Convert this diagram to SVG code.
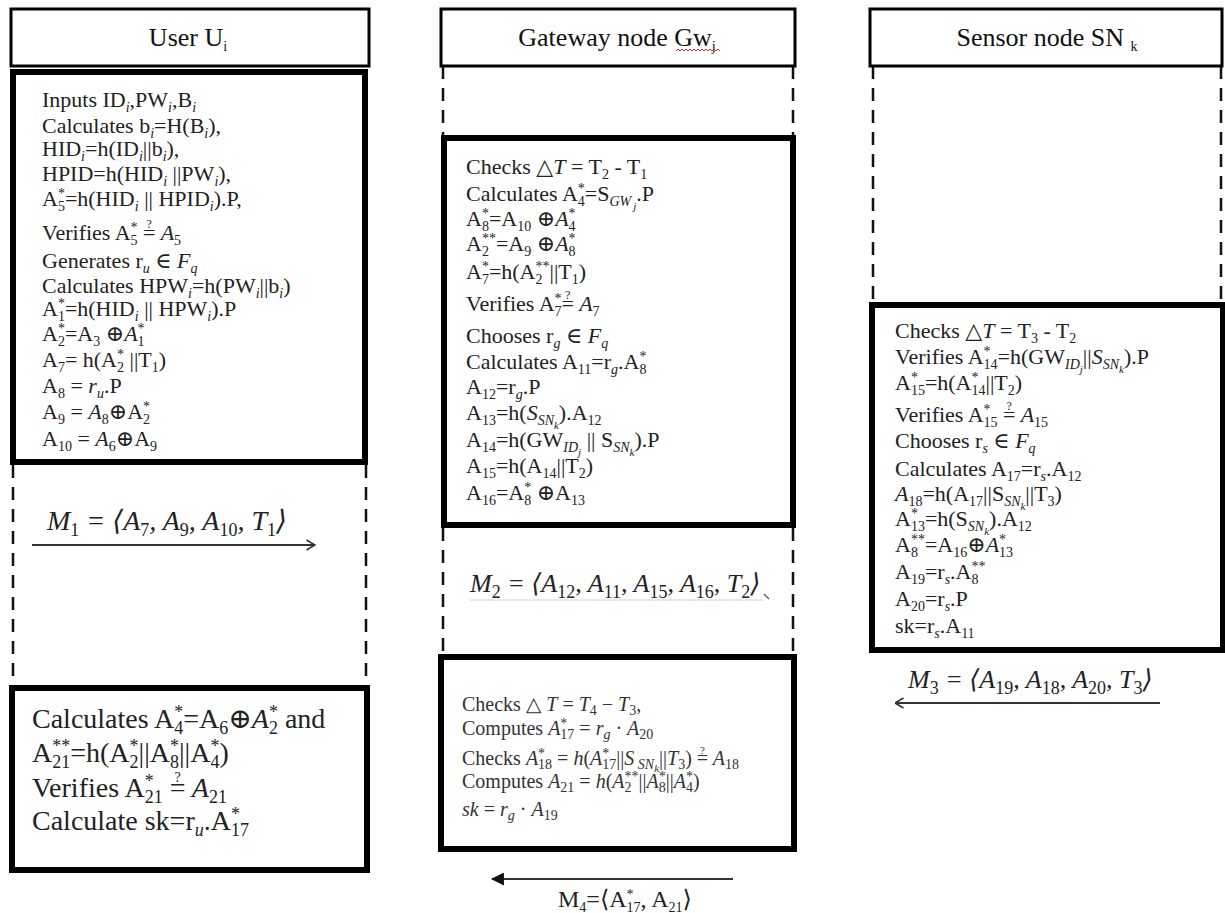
<svg xmlns="http://www.w3.org/2000/svg" width="1225" height="913" viewBox="0 0 1225 913">
<style>
text{font-family:"Liberation Serif","DejaVu Serif",serif;fill:#222;}
.b{font-size:22px;}
.l{font-size:28px;}
.m{font-size:20px;fill:#333;}
.h{font-size:26px;fill:#111;}
.s{font-size:14px;}
.s2{font-size:18px;}
.s3{font-size:14px;}
.ss{font-size:11px;}
.q{font-size:12px;}
.it{font-style:italic;}
.up{font-style:normal;}
.box{fill:none;stroke:#000;stroke-width:6;}
.hdr{fill:#fff;stroke:#000;stroke-width:3;}
.dash{stroke:#111;stroke-width:2.5;stroke-dasharray:13 9;fill:none;}
.msg{stroke:#333;stroke-width:2;fill:none;}
</style>
<defs>
<marker id="open" viewBox="0 0 10 12" refX="9.5" refY="6" markerWidth="10" markerHeight="12" markerUnits="userSpaceOnUse" orient="auto"><path d="M1,1 L9.5,6 L1,11" fill="none" stroke="#333" stroke-width="1.6"/></marker>
<marker id="filled" viewBox="0 0 12 12" refX="11" refY="6" markerWidth="13" markerHeight="13" markerUnits="userSpaceOnUse" orient="auto"><path d="M0,0 L12,6 L0,12 z" fill="#111"/></marker>
</defs>
<rect width="1225" height="913" fill="#fff"/>

<g id="lifelines">
<line class="dash" x1="13" y1="465" x2="13" y2="688"/>
<line class="dash" x1="366" y1="465" x2="366" y2="688"/>
<line class="dash" x1="443" y1="66" x2="443" y2="138"/>
<line class="dash" x1="793" y1="66" x2="793" y2="138"/>
<line class="dash" x1="443" y1="528" x2="443" y2="657"/>
<line class="dash" x1="793" y1="528" x2="793" y2="657"/>
<line class="dash" x1="873" y1="66" x2="873" y2="305"/>
<line class="dash" x1="1221" y1="66" x2="1221" y2="305"/>
</g>

<g id="header-user">
<rect class="hdr" x="11" y="9" width="358" height="57"/>
<text class="h" x="188" y="46" text-anchor="middle">User U<tspan class="s" baseline-shift="-5">i</tspan></text>
</g>
<g id="header-gateway">
<rect class="hdr" x="441" y="9" width="354" height="57"/>
<text class="h" x="617" y="46" text-anchor="middle">Gateway node Gw<tspan class="s" baseline-shift="-5">j</tspan></text>
<polyline points="676,51 678,49 680,51 682,49 684,51 686,49 688,51 690,49 692,51 694,49 696,51 698,49 700,51 702,49 704,51 706,49 708,51 710,49 712,51 714,49 716,51 718,49 720,51" fill="none" stroke="#e02020" stroke-width="1"/>
</g>
<g id="header-sensor">
<rect class="hdr" x="870" y="9" width="352" height="57"/>
<text class="h" x="1047" y="46" text-anchor="middle">Sensor node SN <tspan class="s" baseline-shift="-5">k</tspan></text>
</g>

<g id="user-compute">
<rect class="box" x="13" y="72" width="352" height="390"/>
<text class="b" x="42" y="107">Inputs ID<tspan class="s it" baseline-shift="-5">i</tspan>,PW<tspan class="s it" baseline-shift="-5">i</tspan>,B<tspan class="s it" baseline-shift="-5">i</tspan></text>
<text class="b" x="42" y="133">Calculates b<tspan class="s it" baseline-shift="-5">i</tspan>=H(B<tspan class="s it" baseline-shift="-5">i</tspan>),</text>
<text class="b" x="42" y="156">HID<tspan class="s it" baseline-shift="-5">i</tspan>=h(ID<tspan class="s it" baseline-shift="-5">i</tspan>||b<tspan class="s it" baseline-shift="-5">i</tspan>),</text>
<text class="b" x="42" y="181">HPID=h(HID<tspan class="s it" baseline-shift="-5">i</tspan> ||PW<tspan class="s it" baseline-shift="-5">i</tspan>),</text>
<text class="b" x="42" y="206">A<tspan class="s" baseline-shift="-5">5</tspan><tspan class="s" dx="-7" baseline-shift="8">*</tspan>=h(HID<tspan class="s it" baseline-shift="-5">i</tspan> || HPID<tspan class="s it" baseline-shift="-5">i</tspan>).P,</text>
<text class="b" x="42" y="240">Verifies A<tspan class="s" baseline-shift="-5">5</tspan><tspan class="s" dx="-7" baseline-shift="8">*</tspan> =<tspan class="q" dx="-8.9" baseline-shift="12">?</tspan><tspan class="it" dx="3.6"> A</tspan><tspan class="s" baseline-shift="-5">5</tspan></text>
<text class="b" x="42" y="268">Generates r<tspan class="s it" baseline-shift="-5">u</tspan> ∈ <tspan class="it">F</tspan><tspan class="s it" baseline-shift="-5">q</tspan></text>
<text class="b" x="42" y="293">Calculates HPW<tspan class="s it" baseline-shift="-5">i</tspan>=h(PW<tspan class="s it" baseline-shift="-5">i</tspan>||b<tspan class="s it" baseline-shift="-5">i</tspan>)</text>
<text class="b" x="42" y="316">A<tspan class="s" baseline-shift="-5">1</tspan><tspan class="s" dx="-7" baseline-shift="8">*</tspan>=h(HID<tspan class="s it" baseline-shift="-5">i</tspan> || HPW<tspan class="s it" baseline-shift="-5">i</tspan>).P</text>
<text class="b" x="42" y="341">A<tspan class="s" baseline-shift="-5">2</tspan><tspan class="s" dx="-7" baseline-shift="8">*</tspan>=A<tspan class="s" baseline-shift="-5">3</tspan> ⊕<tspan class="it">A</tspan><tspan class="s" baseline-shift="-5">1</tspan><tspan class="s" dx="-7" baseline-shift="8">*</tspan></text>
<text class="b" x="42" y="367">A<tspan class="s" baseline-shift="-5">7</tspan>= h(A<tspan class="s" baseline-shift="-5">2</tspan><tspan class="s" dx="-7" baseline-shift="8">*</tspan> ||T<tspan class="s" baseline-shift="-5">1</tspan>)</text>
<text class="b" x="42" y="393">A<tspan class="s" baseline-shift="-5">8</tspan> = <tspan class="it">r</tspan><tspan class="s it" baseline-shift="-5">u</tspan>.P</text>
<text class="b" x="42" y="419">A<tspan class="s" baseline-shift="-5">9</tspan> = <tspan class="it">A</tspan><tspan class="s" baseline-shift="-5">8</tspan>⊕A<tspan class="s" baseline-shift="-5">2</tspan><tspan class="s" dx="-7" baseline-shift="8">*</tspan></text>
<text class="b" x="42" y="446">A<tspan class="s" baseline-shift="-5">10</tspan> = <tspan class="it">A</tspan><tspan class="s" baseline-shift="-5">6</tspan>⊕A<tspan class="s" baseline-shift="-5">9</tspan></text>
</g>

<g id="user-verify">
<rect class="box" x="12" y="688" width="355" height="182"/>
<text class="l" x="32" y="728">Calculates A<tspan class="s2" baseline-shift="-6">4</tspan><tspan class="s2" dx="-9" baseline-shift="10">*</tspan>=A<tspan class="s2" baseline-shift="-6">6</tspan>⊕<tspan class="it">A</tspan><tspan class="s2" baseline-shift="-6">2</tspan><tspan class="s2" dx="-9" baseline-shift="10">*</tspan> and</text>
<text class="l" x="32" y="762">A<tspan class="s2" baseline-shift="-6">21</tspan><tspan class="s2" dx="-18" baseline-shift="10">**</tspan>=h(A<tspan class="s2" baseline-shift="-6">2</tspan><tspan class="s2" dx="-9" baseline-shift="10">*</tspan>||A<tspan class="s2" baseline-shift="-6">8</tspan><tspan class="s2" dx="-9" baseline-shift="10">*</tspan>||A<tspan class="s2" baseline-shift="-6">4</tspan><tspan class="s2" dx="-9" baseline-shift="10">*</tspan>)</text>
<text class="l" x="32" y="797">Verifies A<tspan class="s2" baseline-shift="10">*</tspan><tspan class="s2" dx="-9" baseline-shift="-6">21</tspan> =<tspan class="s3" dx="-11" baseline-shift="15">?</tspan><tspan class="it" dx="4.5"> A</tspan><tspan class="s2" baseline-shift="-6">21</tspan></text>
<text class="l" x="32" y="830">Calculate sk=r<tspan class="s2 it" baseline-shift="-6">u</tspan>.A<tspan class="s2" baseline-shift="10">*</tspan><tspan class="s2" dx="-9" baseline-shift="-6">17</tspan></text>
</g>

<g id="gateway-compute">
<rect class="box" x="444" y="138" width="349" height="387"/>
<text class="b" x="466" y="174">Checks △<tspan class="it">T</tspan> = T<tspan class="s" baseline-shift="-5">2</tspan> - T<tspan class="s" baseline-shift="-5">1</tspan></text>
<text class="b" x="466" y="201">Calculates A<tspan class="s" baseline-shift="-5">4</tspan><tspan class="s" dx="-7" baseline-shift="8">*</tspan>=S<tspan class="s it" baseline-shift="-5">GW</tspan><tspan class="ss it" dx="2" baseline-shift="-9">j</tspan>.P</text>
<text class="b" x="466" y="226">A<tspan class="s" baseline-shift="-5">8</tspan><tspan class="s" dx="-7" baseline-shift="8">*</tspan>=A<tspan class="s" baseline-shift="-5">10</tspan> ⊕<tspan class="it">A</tspan><tspan class="s" baseline-shift="-5">4</tspan><tspan class="s" dx="-7" baseline-shift="8">*</tspan></text>
<text class="b" x="466" y="251">A<tspan class="s" baseline-shift="-5">2</tspan><tspan class="s" dx="-7" baseline-shift="8">**</tspan>=A<tspan class="s" baseline-shift="-5">9</tspan> ⊕<tspan class="it">A</tspan><tspan class="s" baseline-shift="-5">8</tspan><tspan class="s" dx="-7" baseline-shift="8">*</tspan></text>
<text class="b" x="466" y="279">A<tspan class="s" baseline-shift="-5">7</tspan><tspan class="s" dx="-7" baseline-shift="8">*</tspan>=h(A<tspan class="s" baseline-shift="-5">2</tspan><tspan class="s" dx="-7" baseline-shift="8">**</tspan>||T<tspan class="s" baseline-shift="-5">1</tspan>)</text>
<text class="b" x="466" y="311">Verifies A<tspan class="s" baseline-shift="-5">7</tspan><tspan class="s" dx="-7" baseline-shift="8">*</tspan>=<tspan class="q" dx="-8.9" baseline-shift="12">?</tspan><tspan class="it" dx="3.6"> A</tspan><tspan class="s" baseline-shift="-5">7</tspan></text>
<text class="b" x="466" y="343">Chooses r<tspan class="s it" baseline-shift="-5">g</tspan> ∈ <tspan class="it">F</tspan><tspan class="s it" baseline-shift="-5">q</tspan></text>
<text class="b" x="466" y="369">Calculates A<tspan class="s" baseline-shift="-5">11</tspan>=r<tspan class="s it" baseline-shift="-5">g</tspan>.A<tspan class="s" baseline-shift="-5">8</tspan><tspan class="s" dx="-7" baseline-shift="8">*</tspan></text>
<text class="b" x="466" y="394">A<tspan class="s" baseline-shift="-5">12</tspan>=r<tspan class="s it" baseline-shift="-5">g</tspan>.P</text>
<text class="b" x="466" y="420">A<tspan class="s" baseline-shift="-5">13</tspan>=h(<tspan class="it">S</tspan><tspan class="s it" baseline-shift="-5">SN</tspan><tspan class="ss it" baseline-shift="-9">k</tspan>).A<tspan class="s" baseline-shift="-5">12</tspan></text>
<text class="b" x="466" y="447">A<tspan class="s" baseline-shift="-5">14</tspan>=h(GW<tspan class="s it" baseline-shift="-5">ID</tspan><tspan class="ss it" baseline-shift="-9">j</tspan> || S<tspan class="s it" baseline-shift="-5">SN</tspan><tspan class="ss it" baseline-shift="-9">k</tspan>).P</text>
<text class="b" x="466" y="473">A<tspan class="s" baseline-shift="-5">15</tspan>=h(A<tspan class="s" baseline-shift="-5">14</tspan>||T<tspan class="s" baseline-shift="-5">2</tspan>)</text>
<text class="b" x="466" y="500">A<tspan class="s" baseline-shift="-5">16</tspan>=A<tspan class="s" baseline-shift="-5">8</tspan><tspan class="s" dx="-7" baseline-shift="8">*</tspan> ⊕A<tspan class="s" baseline-shift="-5">13</tspan></text>
</g>

<g id="gateway-verify">
<rect class="box" x="441" y="657" width="353" height="192"/>
<text class="m" x="462" y="711">Checks △ <tspan class="it">T</tspan> = <tspan class="it">T</tspan><tspan class="s3" baseline-shift="-4">4</tspan> − <tspan class="it">T</tspan><tspan class="s3" baseline-shift="-4">3</tspan>,</text>
<text class="m" x="462" y="735">Computes <tspan class="it">A</tspan><tspan class="s3" baseline-shift="7">*</tspan><tspan class="s3" dx="-7" baseline-shift="-4">17</tspan> = <tspan class="it">r</tspan><tspan class="s3 it" baseline-shift="-4">g</tspan> · <tspan class="it">A</tspan><tspan class="s3" baseline-shift="-4">20</tspan></text>
<text class="m" x="462" y="765">Checks <tspan class="it">A</tspan><tspan class="s3" baseline-shift="7">*</tspan><tspan class="s3" dx="-7" baseline-shift="-4">18</tspan> = <tspan class="it">h</tspan>(<tspan class="it">A</tspan><tspan class="s3" baseline-shift="7">*</tspan><tspan class="s3" dx="-7" baseline-shift="-4">17</tspan>||<tspan class="it">S</tspan><tspan class="s3 it" baseline-shift="-4"> SN</tspan><tspan class="ss it" baseline-shift="-7">k</tspan>||<tspan class="it">T</tspan><tspan class="s3" baseline-shift="-4">3</tspan>) =<tspan class="ss" dx="-8.1" baseline-shift="11">?</tspan><tspan class="it" dx="3.2"> A</tspan><tspan class="s3" baseline-shift="-4">18</tspan></text>
<text class="m" x="462" y="788">Computes <tspan class="it">A</tspan><tspan class="s3" baseline-shift="-4">21</tspan> = <tspan class="it">h</tspan>(<tspan class="it">A</tspan><tspan class="s3" baseline-shift="-4">2</tspan><tspan class="s3" dx="-7" baseline-shift="7">**</tspan>||<tspan class="it">A</tspan><tspan class="s3" baseline-shift="-4">8</tspan><tspan class="s3" dx="-7" baseline-shift="7">*</tspan>||<tspan class="it">A</tspan><tspan class="s3" baseline-shift="-4">4</tspan><tspan class="s3" dx="-7" baseline-shift="7">*</tspan>)</text>
<text class="m" x="462" y="816"><tspan class="it">sk</tspan> = <tspan class="it">r</tspan><tspan class="s3 it" baseline-shift="-4">g</tspan> · <tspan class="it">A</tspan><tspan class="s3" baseline-shift="-4">19</tspan></text>
</g>

<g id="sensor-compute">
<rect class="box" x="872" y="305" width="351" height="345"/>
<text class="b" x="895" y="338">Checks △<tspan class="it">T</tspan> = T<tspan class="s" baseline-shift="-5">3</tspan> - T<tspan class="s" baseline-shift="-5">2</tspan></text>
<text class="b" x="895" y="364">Verifies A<tspan class="s" baseline-shift="8">*</tspan><tspan class="s" dx="-7" baseline-shift="-5">14</tspan>=h(GW<tspan class="s it" baseline-shift="-5">ID</tspan><tspan class="ss it" baseline-shift="-9">j</tspan>||<tspan class="it">S</tspan><tspan class="s it" baseline-shift="-5">SN</tspan><tspan class="ss it" baseline-shift="-9">k</tspan>).P</text>
<text class="b" x="895" y="390">A<tspan class="s" baseline-shift="8">*</tspan><tspan class="s" dx="-7" baseline-shift="-5">15</tspan>=h(A<tspan class="s" baseline-shift="8">*</tspan><tspan class="s" dx="-7" baseline-shift="-5">14</tspan>||T<tspan class="s" baseline-shift="-5">2</tspan>)</text>
<text class="b" x="895" y="422">Verifies A<tspan class="s" baseline-shift="8">*</tspan><tspan class="s" dx="-7" baseline-shift="-5">15</tspan> =<tspan class="q" dx="-8.9" baseline-shift="12">?</tspan><tspan class="it" dx="3.6"> A</tspan><tspan class="s" baseline-shift="-5">15</tspan></text>
<text class="b" x="895" y="448">Chooses r<tspan class="s it" baseline-shift="-5">s</tspan> ∈ <tspan class="it">F</tspan><tspan class="s it" baseline-shift="-5">q</tspan></text>
<text class="b" x="895" y="476">Calculates A<tspan class="s" baseline-shift="-5">17</tspan>=r<tspan class="s it" baseline-shift="-5">s</tspan>.A<tspan class="s" baseline-shift="-5">12</tspan></text>
<text class="b" x="895" y="501"><tspan class="it">A</tspan><tspan class="s" baseline-shift="-5">18</tspan>=h(A<tspan class="s" baseline-shift="-5">17</tspan>||S<tspan class="s it" baseline-shift="-5">SN</tspan><tspan class="ss it" baseline-shift="-9">k</tspan>||T<tspan class="s" baseline-shift="-5">3</tspan>)</text>
<text class="b" x="895" y="526">A<tspan class="s" baseline-shift="8">*</tspan><tspan class="s" dx="-7" baseline-shift="-5">13</tspan>=h(S<tspan class="s it" baseline-shift="-5">SN</tspan><tspan class="ss it" baseline-shift="-9">k</tspan>).A<tspan class="s" baseline-shift="-5">12</tspan></text>
<text class="b" x="895" y="552">A<tspan class="s" baseline-shift="-5">8</tspan><tspan class="s" dx="-7" baseline-shift="8">**</tspan>=A<tspan class="s" baseline-shift="-5">16</tspan>⊕<tspan class="it">A</tspan><tspan class="s" baseline-shift="8">*</tspan><tspan class="s" dx="-7" baseline-shift="-5">13</tspan></text>
<text class="b" x="895" y="579">A<tspan class="s" baseline-shift="-5">19</tspan>=r<tspan class="s it" baseline-shift="-5">s</tspan>.A<tspan class="s" baseline-shift="-5">8</tspan><tspan class="s" dx="-7" baseline-shift="8">**</tspan></text>
<text class="b" x="895" y="606">A<tspan class="s" baseline-shift="-5">20</tspan>=r<tspan class="s it" baseline-shift="-5">s</tspan>.P</text>
<text class="b" x="895" y="633">sk=r<tspan class="s it" baseline-shift="-5">s</tspan>.A<tspan class="s" baseline-shift="-5">11</tspan></text>
</g>

<g id="connectors">
<line class="msg" x1="32" y1="545" x2="315" y2="545" marker-end="url(#open)"/>
<text class="l it" x="47" y="530">M<tspan class="s2 up" baseline-shift="-6">1</tspan>  =  ⟨A<tspan class="s2 up" baseline-shift="-6">7</tspan>, A<tspan class="s2 up" baseline-shift="-6">9</tspan>, A<tspan class="s2 up" baseline-shift="-6">10</tspan>, T<tspan class="s2 up" baseline-shift="-6">1</tspan>⟩</text>
<line x1="470" y1="600" x2="763" y2="600" stroke="#d0d0d0" stroke-width="1"/>
<line x1="764" y1="594" x2="769" y2="599" stroke="#555" stroke-width="1.2"/>
<text class="it" x="470" y="592" font-size="26">M<tspan class="s2 up" baseline-shift="-6">2</tspan> = ⟨A<tspan class="s2 up" baseline-shift="-6">12</tspan>, A<tspan class="s2 up" baseline-shift="-6">11</tspan>, A<tspan class="s2 up" baseline-shift="-6">15</tspan>, A<tspan class="s2 up" baseline-shift="-6">16</tspan>, T<tspan class="s2 up" baseline-shift="-6">2</tspan>⟩</text>
<line class="msg" x1="1160" y1="703" x2="895" y2="703" marker-end="url(#open)"/>
<text class="it" x="908" y="688" font-size="26">M<tspan class="s2 up" baseline-shift="-6">3</tspan> = ⟨A<tspan class="s2 up" baseline-shift="-6">19</tspan>, A<tspan class="s2 up" baseline-shift="-6">18</tspan>, A<tspan class="s2 up" baseline-shift="-6">20</tspan>, T<tspan class="s2 up" baseline-shift="-6">3</tspan>⟩</text>
<line class="msg" x1="733" y1="879" x2="492" y2="879" marker-end="url(#filled)"/>
<text x="558" y="907" font-size="24">M<tspan class="s" baseline-shift="-5">4</tspan>=⟨A<tspan class="s" baseline-shift="8">*</tspan><tspan class="s" dx="-7" baseline-shift="-5">17</tspan>, A<tspan class="s" baseline-shift="-5">21</tspan>⟩</text>
</g>
</svg>
